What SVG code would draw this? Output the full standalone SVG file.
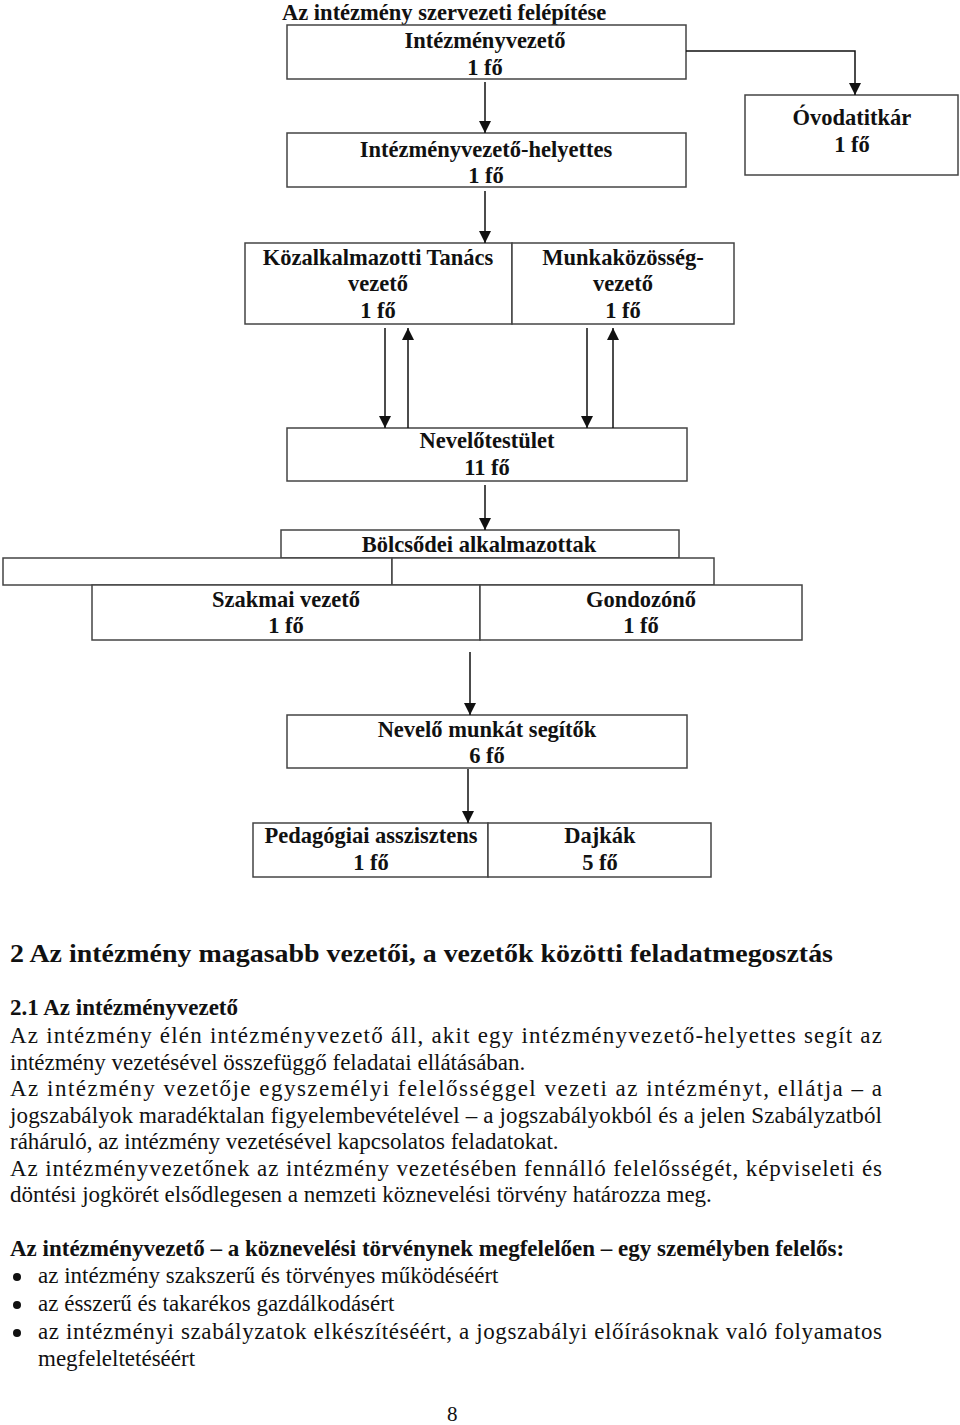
<svg xmlns="http://www.w3.org/2000/svg" width="960" height="1425" viewBox="0 0 960 1425">
<style>
.box{fill:#fff;stroke:#444;stroke-width:1.5}
.t{font-family:"Liberation Serif","Times New Roman",serif;font-size:22.5px;font-weight:bold;fill:#111;text-anchor:middle}
.c{stroke:#111;stroke-width:1.5;fill:none;marker-end:url(#ah)}
.b{font-family:"Liberation Serif","Times New Roman",serif;font-size:23px;fill:#111}
.bb{font-family:"Liberation Serif","Times New Roman",serif;font-size:23px;font-weight:bold;fill:#111}
</style>
<defs>
<marker id="ah" markerUnits="userSpaceOnUse" markerWidth="12" markerHeight="16" viewBox="0 0 12 16" refX="12" refY="6" orient="auto">
<path d="M0,0 L12,6 L0,12 Z" fill="#111"/>
</marker>
</defs>
<text class="t" x="282" y="20" style="text-anchor:start">Az intézmény szervezeti felépítése</text>
<g id="n-intezmenyvezeto"><rect class="box" x="287" y="25" width="399" height="54"/><text class="t" x="485" y="48">Intézményvezető</text><text class="t" x="485" y="75">1 fő</text></g>
<g id="n-helyettes"><rect class="box" x="287" y="133" width="399" height="54"/><text class="t" x="486" y="157">Intézményvezető-helyettes</text><text class="t" x="486" y="183">1 fő</text></g>
<g id="n-ovodatitkar"><rect class="box" x="745" y="95" width="213" height="80"/><text class="t" x="852" y="125">Óvodatitkár</text><text class="t" x="852" y="152">1 fő</text></g>
<g id="n-kt"><rect class="box" x="245" y="243" width="267" height="81"/><text class="t" x="378" y="265">Közalkalmazotti Tanács</text><text class="t" x="378" y="291">vezető</text><text class="t" x="378" y="318">1 fő</text></g>
<g id="n-mk"><rect class="box" x="512" y="243" width="222" height="81"/><text class="t" x="623" y="265">Munkaközösség-</text><text class="t" x="623" y="291">vezető</text><text class="t" x="623" y="318">1 fő</text></g>
<g id="n-nevelotestulet"><rect class="box" x="287" y="428" width="400" height="53"/><text class="t" x="487" y="448">Nevelőtestület</text><text class="t" x="487" y="475">11 fő</text></g>
<g id="n-bolcsodei"><rect class="box" x="281" y="530" width="398" height="28"/><text class="t" x="479" y="552">Bölcsődei alkalmazottak</text></g>
<g id="n-ures"><rect class="box" x="3" y="558" width="389" height="27"/><rect class="box" x="392" y="558" width="322" height="27"/></g>
<g id="n-szakmai"><rect class="box" x="92" y="585" width="388" height="55"/><text class="t" x="286" y="607">Szakmai vezető</text><text class="t" x="286" y="633">1 fő</text></g>
<g id="n-gondozono"><rect class="box" x="480" y="585" width="322" height="55"/><text class="t" x="641" y="607">Gondozónő</text><text class="t" x="641" y="633">1 fő</text></g>
<g id="n-nevelo-munkat"><rect class="box" x="287" y="715" width="400" height="53"/><text class="t" x="487" y="737">Nevelő munkát segítők</text><text class="t" x="487" y="763">6 fő</text></g>
<g id="n-pedagogiai"><rect class="box" x="253" y="823" width="235" height="54"/><text class="t" x="371" y="843">Pedagógiai asszisztens</text><text class="t" x="371" y="870">1 fő</text></g>
<g id="n-dajkak"><rect class="box" x="488" y="823" width="223" height="54"/><text class="t" x="600" y="843">Dajkák</text><text class="t" x="600" y="870">5 fő</text></g>
<g id="connectors">
<path class="c" d="M686,51 H855 V95"/>
<path class="c" d="M485,82 V133"/>
<path class="c" d="M485,191 V243"/>
<path class="c" d="M385,328 V428"/>
<path class="c" d="M408,428 V328"/>
<path class="c" d="M587,328 V428"/>
<path class="c" d="M613,428 V328"/>
<path class="c" d="M485,485 V530"/>
<path class="c" d="M470,652 V715"/>
<path class="c" d="M468,769 V823"/>
</g>
<g id="text">
<text class="bb" x="10" y="962" style="font-size:26px" textLength="823" lengthAdjust="spacingAndGlyphs">2 Az intézmény magasabb vezetői, a vezetők közötti feladatmegosztás</text>
<text class="bb" x="10" y="1015">2.1 Az intézményvezető</text>
<text class="b" x="10" y="1043" textLength="872" lengthAdjust="spacing">Az intézmény élén intézményvezető áll, akit egy intézményvezető-helyettes segít az</text>
<text class="b" x="10" y="1070">intézmény vezetésével összefüggő feladatai ellátásában.</text>
<text class="b" x="10" y="1096" textLength="872" lengthAdjust="spacing">Az intézmény vezetője egyszemélyi felelősséggel vezeti az intézményt, ellátja – a</text>
<text class="b" x="10" y="1123" textLength="872" lengthAdjust="spacing">jogszabályok maradéktalan figyelembevételével – a jogszabályokból és a jelen Szabályzatból</text>
<text class="b" x="10" y="1149">ráháruló, az intézmény vezetésével kapcsolatos feladatokat.</text>
<text class="b" x="10" y="1176" textLength="872" lengthAdjust="spacing">Az intézményvezetőnek az intézmény vezetésében fennálló felelősségét, képviseleti és</text>
<text class="b" x="10" y="1202">döntési jogkörét elsődlegesen a nemzeti köznevelési törvény határozza meg.</text>
<text class="bb" x="10" y="1256">Az intézményvezető – a köznevelési törvénynek megfelelően – egy személyben felelős:</text>
<circle cx="17" cy="1277" r="4" fill="#111"/>
<circle cx="17" cy="1305" r="4" fill="#111"/>
<circle cx="17" cy="1333" r="4" fill="#111"/>
<text class="b" x="38" y="1283">az intézmény szakszerű és törvényes működéséért</text>
<text class="b" x="38" y="1311">az ésszerű és takarékos gazdálkodásért</text>
<text class="b" x="38" y="1339" textLength="844" lengthAdjust="spacing">az intézményi szabályzatok elkészítéséért, a jogszabályi előírásoknak való folyamatos</text>
<text class="b" x="38" y="1366">megfeleltetéséért</text>
<text class="b" x="447" y="1421" style="font-size:21px">8</text>
</g>
</svg>
